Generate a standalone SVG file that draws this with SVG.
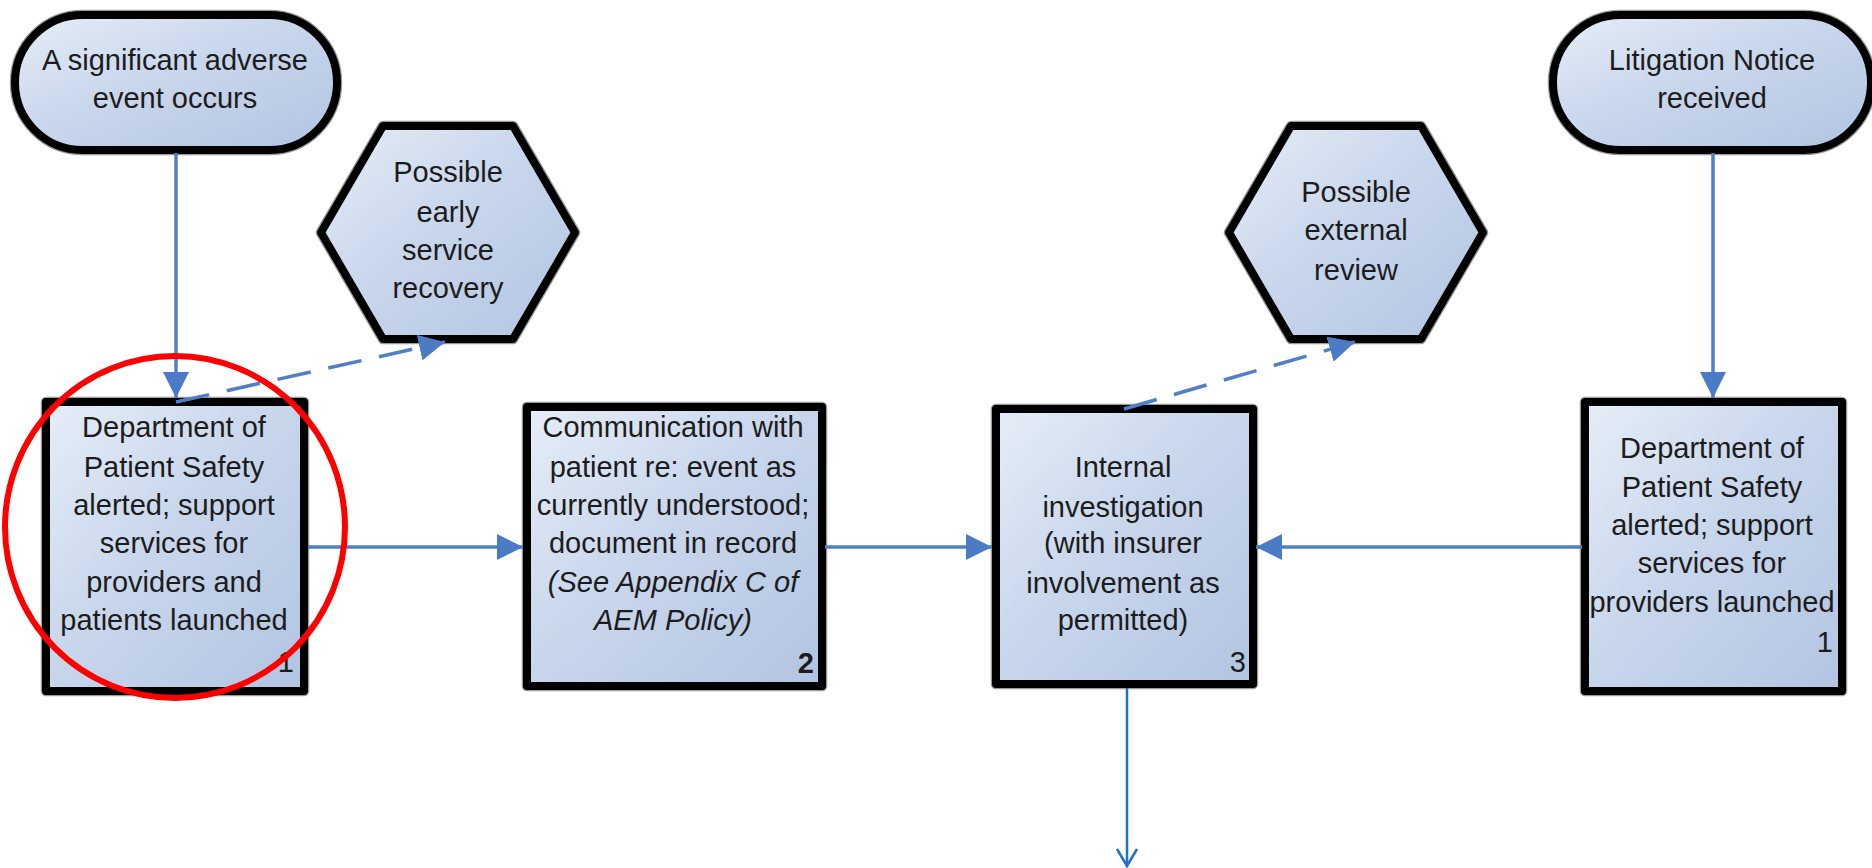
<svg xmlns="http://www.w3.org/2000/svg" width="1872" height="868" viewBox="0 0 1872 868">
<defs>
<linearGradient id="fillG" x1="0" y1="0" x2="1" y2="1">
<stop offset="0" stop-color="#e6edf7"/>
<stop offset="0.45" stop-color="#c9d7ec"/>
<stop offset="1" stop-color="#b1c4e1"/>
</linearGradient>
<marker id="ah" markerUnits="userSpaceOnUse" markerWidth="26" markerHeight="26" viewBox="0 0 26 26" refX="26" refY="13" orient="auto">
<path d="M0,0 L26,13 L0,26 z" fill="#4a7bc4"/>
</marker>
<style>
.shape{fill:url(#fillG);stroke:#000;stroke-width:8;stroke-linejoin:round}
.halo{fill:none;stroke:#9a9a9a;stroke-width:10.5;stroke-linejoin:round}
text{font-family:"Liberation Sans",Arial,sans-serif;font-size:29px;fill:#1c1c1c;text-anchor:middle}
.num{text-anchor:end}
.b{font-weight:bold}
.i{font-style:italic}
.conn{fill:none;stroke:#4f7fc6;stroke-width:3.5}
.dash{stroke-dasharray:34 18}
.out{fill:none;stroke:#1f70cf;stroke-width:2.5}
</style>
</defs>

<g id="start-adverse-event">
<rect class="halo" x="15" y="15" width="322" height="135" rx="67.5"/>
<rect class="shape" x="15" y="15" width="322" height="135" rx="67.5"/>
<text x="175" y="70">A significant adverse</text>
<text x="175" y="108">event occurs</text>
</g>

<g id="start-litigation">
<rect class="halo" x="1553" y="15" width="318" height="135" rx="67.5"/>
<rect class="shape" x="1553" y="15" width="318" height="135" rx="67.5"/>
<text x="1712" y="70">Litigation Notice</text>
<text x="1712" y="108">received</text>
</g>

<g id="hex-early-recovery">
<polygon class="halo" points="321,232.5 383,126 513,126 575,232.5 513,339 383,339"/>
<polygon class="shape" points="321,232.5 383,126 513,126 575,232.5 513,339 383,339"/>
<text x="448" y="182">Possible</text>
<text x="448" y="222">early</text>
<text x="448" y="260">service</text>
<text x="448" y="298">recovery</text>
</g>

<g id="hex-external-review">
<polygon class="halo" points="1229,232.5 1291,126 1421,126 1483,232.5 1421,339 1291,339"/>
<polygon class="shape" points="1229,232.5 1291,126 1421,126 1483,232.5 1421,339 1291,339"/>
<text x="1356" y="202">Possible</text>
<text x="1356" y="240">external</text>
<text x="1356" y="280">review</text>
</g>

<g id="box1-left">
<rect class="halo" x="46" y="402" width="258" height="289"/>
<rect class="shape" x="46" y="402" width="258" height="289"/>
<text x="174" y="437">Department of</text>
<text x="174" y="477">Patient Safety</text>
<text x="174" y="515">alerted; support</text>
<text x="174" y="553">services for</text>
<text x="174" y="592">providers and</text>
<text x="174" y="630">patients launched</text>
<text class="num" x="294" y="672">1</text>
</g>

<g id="box2">
<rect class="halo" x="527" y="407" width="295" height="279"/>
<rect class="shape" x="527" y="407" width="295" height="279"/>
<text x="673" y="437">Communication with</text>
<text x="673" y="477">patient re: event as</text>
<text x="673" y="515">currently understood;</text>
<text x="673" y="553">document in record</text>
<text class="i" x="673" y="592">(See Appendix C of</text>
<text class="i" x="673" y="630">AEM Policy)</text>
<text class="num b" x="814" y="673">2</text>
</g>

<g id="box3">
<rect class="halo" x="996" y="409" width="257" height="275"/>
<rect class="shape" x="996" y="409" width="257" height="275"/>
<text x="1123" y="477">Internal</text>
<text x="1123" y="517">investigation</text>
<text x="1123" y="553">(with insurer</text>
<text x="1123" y="593">involvement as</text>
<text x="1123" y="630">permitted)</text>
<text class="num" x="1246" y="672">3</text>
</g>

<g id="box1-right">
<rect class="halo" x="1585" y="402" width="257" height="289"/>
<rect class="shape" x="1585" y="402" width="257" height="289"/>
<text x="1712" y="458">Department of</text>
<text x="1712" y="497">Patient Safety</text>
<text x="1712" y="535">alerted; support</text>
<text x="1712" y="573">services for</text>
<text x="1712" y="612">providers launched</text>
<text class="num" x="1833" y="652">1</text>
</g>

<g id="connectors">
<path class="conn" d="M176,153 V398" marker-end="url(#ah)"/>
<path class="conn" d="M1713,153 V398" marker-end="url(#ah)"/>
<path class="conn" d="M308,547 H523" marker-end="url(#ah)"/>
<path class="conn" d="M825,547 H992" marker-end="url(#ah)"/>
<path class="conn" d="M1582,547 H1256" marker-end="url(#ah)"/>
<path class="conn dash" d="M176,402 L445,342" marker-end="url(#ah)"/>
<path class="conn dash" d="M1124,409 L1355,342" marker-end="url(#ah)"/>
<path class="out" d="M1127,688 V866"/>
<path class="out" d="M1117,849 L1127,866 L1137,849"/>
</g>

<g id="highlight">
<ellipse cx="175" cy="527" rx="170" ry="171" fill="none" stroke="#ff0000" stroke-width="6"/>
</g>
</svg>
